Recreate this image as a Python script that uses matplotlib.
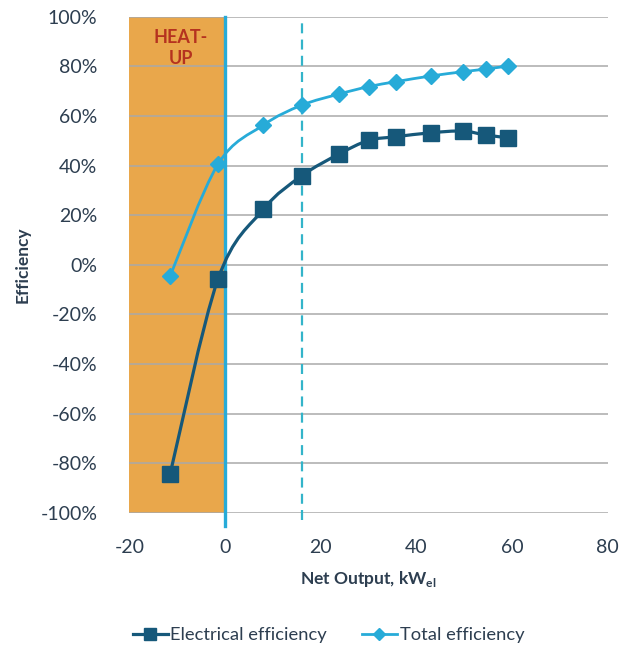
import numpy as np
import matplotlib
matplotlib.use("Agg")
import matplotlib.pyplot as plt
from matplotlib.path import Path
from matplotlib.patches import PathPatch
from matplotlib.lines import Line2D
from matplotlib.ticker import FuncFormatter

# data
net_output = [-11.5, -1.5, 8.0, 16.0, 23.8, 30.0, 35.7, 43.0, 49.7, 54.5, 59.2]
electrical = [-84.4, -5.9, 22.3, 35.8, 44.6, 50.1, 51.6, 53.2, 53.9, 52.3, 51.2]
total = [-4.6, 40.5, 56.3, 64.3, 68.8, 71.8, 73.8, 76.1, 77.8, 78.9, 80.1]
heatup_span = (-20, 0)
startup_x = 0
dashed_x = 16
x_ticks = [-20, 0, 20, 40, 60, 80]
y_ticks = list(range(-100, 101, 20))

c_elec = '#16587a'
c_total = '#27abd8'
c_orange = '#e9a74b'
c_text = '#2d3e50'

plt.rcParams['font.family'] = ['Lato', 'DejaVu Sans']
plt.rcParams['axes.unicode_minus'] = False


def smooth_path(x, y):
    # Catmull-Rom style bezier through the points (like Excel's smoothed line)
    p = np.column_stack([x, y]).astype(float)
    verts = [p[0]]
    codes = [Path.MOVETO]
    n = len(p)
    for i in range(n - 1):
        p0 = p[i - 1] if i > 0 else p[i]
        p1, p2 = p[i], p[i + 1]
        p3 = p[i + 2] if i + 2 < n else p[i + 1]
        verts += [p1 + (p2 - p0) / 6.0, p2 - (p3 - p1) / 6.0, p2]
        codes += [Path.CURVE4] * 3
    return Path(verts, codes)


fig = plt.figure(figsize=(6.27, 6.48), dpi=100)
ax = fig.add_axes([0.2065, 0.2088, 0.7625, 0.7654])

ax.axvspan(*heatup_span, color=c_orange, zorder=0, lw=0)
ax.set_xlim(-20, 80)
ax.set_ylim(-100, 100)
ax.set_yticks(y_ticks)
ax.set_xticks(x_ticks)
ax.yaxis.grid(True, color='#a9a9a9', lw=1.1, zorder=1)
ax.set_axisbelow(True)
for s in ax.spines.values():
    s.set_visible(False)
ax.tick_params(length=0, labelsize=14, labelcolor=c_text)
ax.tick_params(axis='y', pad=23)
ax.tick_params(axis='x', pad=19)
ax.yaxis.set_major_formatter(FuncFormatter(lambda v, _: f"{v:.0f}%"))

ax.plot([startup_x, startup_x], [-105.5, 100], color=c_total, lw=2.4,
        clip_on=False, zorder=2)
ax.plot([dashed_x, dashed_x], [-103, 99], color='#33b4c9', lw=1.6,
        dashes=(4.5, 2.8), clip_on=False, zorder=2)

ax.text(-9.2, 95, "HEAT-\nUP", color='#b5321f', fontsize=13, fontweight='bold',
        ha='center', va='top', linespacing=1.3, zorder=3)

ax.add_patch(PathPatch(smooth_path(net_output, total), fill=False,
                       ec=c_total, lw=2.0, zorder=4))
ax.plot(net_output, total, ls='none', marker='D', ms=8.5, color=c_total, zorder=5)
ax.add_patch(PathPatch(smooth_path(net_output, electrical), fill=False,
                       ec=c_elec, lw=2.3, zorder=4))
ax.plot(net_output, electrical, ls='none', marker='s', ms=11, color=c_elec, zorder=5)

ax.set_ylabel("Efficiency", fontsize=12.5, fontweight='bold', color=c_text, labelpad=7)
ax.set_xlabel("Net Output, kW$_{\\mathregular{el}}$", fontsize=12.5, fontweight='bold',
              color=c_text, labelpad=9)

handles = [Line2D([], [], color=c_elec, lw=2.3, marker='s', ms=9),
           Line2D([], [], color=c_total, lw=2.0, marker='D', ms=6)]
fig.legend(handles, ["Electrical efficiency", "Total efficiency"], loc='center',
           bbox_to_anchor=(0.524, 0.02), ncol=2, frameon=False, fontsize=13.2,
           handlelength=1.9, handletextpad=0.15, columnspacing=1.9,
           labelcolor=c_text)

fig.savefig("out.png", dpi=100)
